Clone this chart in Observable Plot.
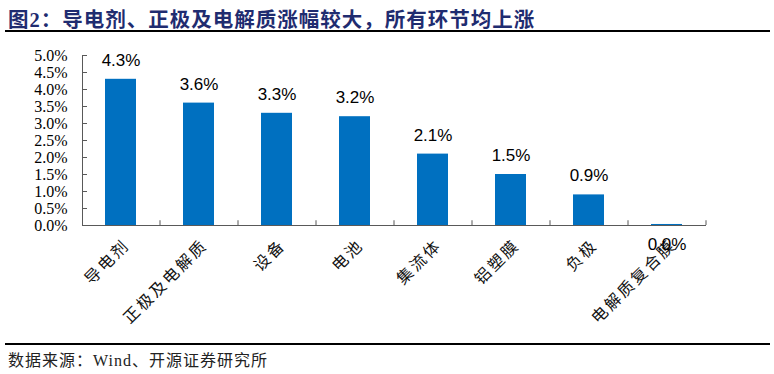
<!DOCTYPE html>
<html><head><meta charset="utf-8">
<script src="https://cdn.jsdelivr.net/npm/d3@7"></script>
<script src="https://cdn.jsdelivr.net/npm/@observablehq/plot@0.6"></script>
<style>
body{margin:0;background:#fff;}
#wrap{position:relative;width:774px;height:374px;overflow:hidden;background:#fff;}
#title{position:absolute;left:8px;top:3px;font:700 20.5px "Liberation Serif","Noto Sans CJK SC";color:#1F2C70;letter-spacing:1px;white-space:nowrap}
#rule1{position:absolute;left:5px;top:30px;width:765px;height:2px;background:#000}
#rule2{position:absolute;left:5px;top:343px;width:765px;height:2px;background:#000}
#src{position:absolute;left:8px;top:347px;font:16px "Liberation Serif","Noto Sans CJK SC";letter-spacing:1px;color:#222;white-space:nowrap}
#chart{position:absolute;left:0;top:0}
#chart g[aria-label="x-axis tick label"] text{letter-spacing:2.5px}
</style></head>
<body>
<div id="wrap">
<div id="title">图2：导电剂、正极及电解质涨幅较大，所有环节均上涨</div>
<div id="rule1"></div>
<div id="chart"></div>
<div id="rule2"></div>
<div id="src">数据来源：Wind、开源证券研究所</div>
</div>
<script>
const categories = ["导电剂","正极及电解质","设备","电池","集流体","铝塑膜","负极","电解质复合膜"];
const values = [4.3, 3.6, 3.3, 3.2, 2.1, 1.5, 0.9, 0.03];
const yTicks = [0, 0.5, 1.0, 1.5, 2.0, 2.5, 3.0, 3.5, 4.0, 4.5, 5.0];

const data = categories.map((c, i) => ({cat: c, v: values[i]}));
const fmt = d => d.toFixed(1) + "%";

const chart = Plot.plot({
  width: 774, height: 340,
  marginLeft: 82, marginRight: 68, marginTop: 55, marginBottom: 115,
  x: {domain: categories, paddingInner: 0.6, paddingOuter: 0.3, label: null},
  y: {domain: [0, 5], label: null},
  style: {background: "transparent", color: "#000"},
  marks: [
    Plot.barY(data, {x: "cat", y: "v", fill: "#0070C0"}),
    Plot.frame({anchor: "left", stroke: "#595959"}),
    Plot.ruleY([0], {stroke: "#595959"}),
    Plot.ruleX(data, {x: "cat", y1: 0, y2: 0.14, dx: 39, stroke: "#595959"}),
    Plot.axisY(yTicks, {tickSize: -5, tickPadding: 20, tickFormat: fmt, fontSize: 16, fontFamily: "Liberation Serif", stroke: "#595959"}),
    Plot.axisX({tickSize: 0, tickRotate: -45, tickPadding: 8, dx: 6, dy: 9, fontSize: 16, fontFamily: "Noto Sans CJK SC", fill: "#111"}),
    Plot.text(data.filter(d => d.v >= 0.05), {x: "cat", y: "v", text: d => fmt(d.v), dy: -19, fontSize: 17, fontFamily: "Liberation Sans", fill: "#000"}),
    Plot.text(data.filter(d => d.v < 0.05), {x: "cat", y: "v", text: d => fmt(d.v), dy: 20, fontSize: 17, fontFamily: "Liberation Sans", fill: "#000"})
  ]
});
document.getElementById("chart").appendChild(chart);
</script>
</body></html>
